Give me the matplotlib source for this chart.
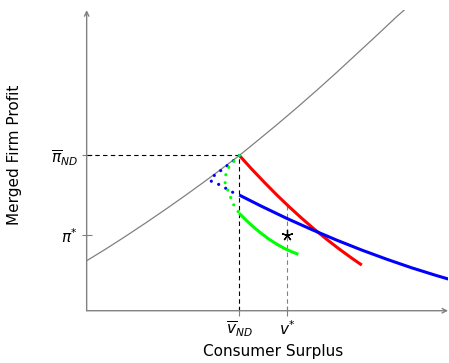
import matplotlib.pyplot as plt

# valores (unidades arbitrarias)
v_nd, pi_nd = 152.7, 155.3
v_star, pi_star = 200.6, 75.4
topo_v_star = 105.7   # onde a linha de v* encontra a curva vermelha
x_max, y_max = 361.3, 300.7

# curva cinza (fronteira)
fronteira_x = [0, 20, 40, 60, 80, 100, 120, 140, 152.7, 170, 190, 210, 230, 250, 270, 290, 310, 317.3]
fronteira_y = [50, 62.3, 75.2, 88.5, 102.2, 116.3, 130.8, 145.8, 155.4, 169.5, 186.0, 203.0, 220.5, 238.5, 257.0, 275.5, 294.3, 300.7]

# curva vermelha
vermelho_x = [152.7, 165, 177.5, 190, 202.5, 215, 227.5, 240, 252.5, 265, 275]
vermelho_y = [155.3, 141.7, 128.6, 115.9, 103.9, 92.5, 81.6, 71.4, 61.7, 52.6, 45.7]

# curva azul (solida e pontilhada)
azul_x = [152.6, 175, 200, 225, 250, 275, 300, 325, 350, 361.6]
azul_y = [115.7, 104.4, 92.4, 81.2, 70.6, 60.7, 51.5, 42.9, 35.1, 31.7]
azul_pont_x = [152.7, 147.6, 136, 125, 123.6, 130, 136.6, 142, 148, 152.6]
azul_pont_y = [155.3, 150.7, 141.7, 133.4, 130, 127.4, 124, 120.7, 117.4, 115.7]

# curva verde (solida e pontilhada)
verde_x = [152.6, 160, 167.5, 175, 182.5, 190, 197.5, 205, 211.6]
verde_y = [97.4, 90.0, 83.1, 77.0, 71.4, 66.6, 62.4, 59.0, 56.4]
verde_pont_x = [152.7, 142.6, 139.3, 138.6, 138.3, 142, 146, 150, 152.6]
verde_pont_y = [155.3, 144.7, 138, 131.4, 125.7, 119, 107.4, 101.4, 97.4]

fig = plt.figure(figsize=(4.49, 3.63), dpi=100)
ax = fig.add_axes([0.193, 0.144, 0.805, 0.828])
ax.set_xlim(0, x_max)
ax.set_ylim(0, y_max)

for s in ['top', 'right', 'left', 'bottom']:
    ax.spines[s].set_visible(False)

# eixos com setas
seta = dict(arrowstyle='->', color='#808080', lw=1.0, shrinkA=0, shrinkB=0,
            mutation_scale=8)
ax.annotate('', xy=(1, 0), xytext=(0, 0), xycoords='axes fraction', arrowprops=seta)
ax.annotate('', xy=(0, 1), xytext=(0, 0), xycoords='axes fraction', arrowprops=seta)

# linhas tracejadas
ax.plot([0, v_nd], [pi_nd, pi_nd], color='black', lw=0.8, ls=(0, (4, 3)))
ax.plot([v_nd, v_nd], [0, pi_nd], color='black', lw=0.8, ls=(0, (4, 3)))
ax.plot([v_star, v_star], [0, topo_v_star], color='#808080', lw=0.8, ls=(0, (4, 3)))

ax.plot(fronteira_x, fronteira_y, color='#808080', lw=0.9)
ax.plot(vermelho_x, vermelho_y, color='red', lw=2.2, solid_capstyle='butt')
ax.plot(azul_x, azul_y, color='blue', lw=2.2, solid_capstyle='butt')
ax.plot(verde_x, verde_y, color='lime', lw=2.2, solid_capstyle='butt')
ax.plot(azul_pont_x, azul_pont_y, color='blue', lw=2.3, ls=(0, (0.01, 2.5)), dash_capstyle='round')
ax.plot(verde_pont_x, verde_pont_y, color='lime', lw=2.3, ls=(0, (0.01, 2.5)), dash_capstyle='round')

ax.plot([v_star], [pi_star], marker=(5, 2, 0), color='black', markersize=8, mew=0.9)

ax.set_xticks([v_nd, v_star])
ax.set_xticklabels([r'$\overline{v}_{ND}$', r'$v^{*}$'], fontsize=11)
ax.set_yticks([pi_nd, pi_star])
ax.set_yticklabels([r'$\overline{\pi}_{ND}$', r'$\pi^{*}$'], fontsize=11)
ax.tick_params(direction='inout', length=7, width=0.8, color='#808080', pad=3)

ax.set_xlabel('Consumer Surplus', fontsize=11)
ax.set_ylabel('Merged Firm Profit', fontsize=11)
ax.xaxis.set_label_coords(0.515, -0.11)
ax.yaxis.set_label_coords(-0.18, 0.52)

fig.savefig('out.png', dpi=100)
